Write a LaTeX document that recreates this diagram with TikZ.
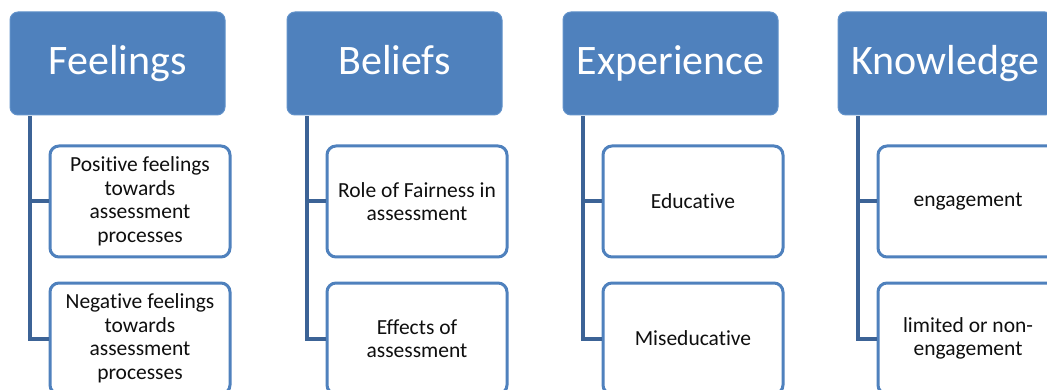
\documentclass[tikz,border=0pt]{standalone}
\usepackage{fontspec}
\setmainfont{Carlito}[Ligatures={NoCommon}]
\definecolor{hdrfill}{RGB}{79,129,189}
\definecolor{hdrline}{RGB}{98,146,202}
\definecolor{boxline}{RGB}{79,129,189}
\definecolor{connline}{RGB}{60,99,150}
\definecolor{txt}{RGB}{15,15,15}
\tikzset{
  header/.style={rectangle, rounded corners=8pt, fill=hdrfill, draw=hdrline, line width=1pt,
    minimum width=215pt, minimum height=103pt, inner sep=0pt, text=white,
    text height=30pt, text depth=7pt,
    font=\fontsize{42}{50}\selectfont},
  child/.style={rectangle, rounded corners=9pt, fill=white, draw=boxline, line width=3pt,
    minimum width=180pt, minimum height=111pt, inner sep=2pt, text=txt, align=center,
    font=\fontsize{21.5}{23.5}\selectfont},
  conn/.style={draw=connline, line width=4pt}
}
\begin{document}
\begin{tikzpicture}[x=1pt,y=-1pt]
\useasboundingbox (0,0) rectangle (1047,390);
\clip (0,0) rectangle (1047,390);
\fill[white] (0,0) rectangle (1047,390);
% column 1
\node[header] (h1) at (117.5,63.5) {Feelings};
\node[child] (a1) at (140,201.5) {Positive feelings\\towards\\assessment\\processes};
\node[child] (b1) at (140,338.5) {Negative feelings\\towards\\assessment\\processes};
% column 2
\node[header] (h2) at (394.5,63.5) {Beliefs};
\node[child] (a2) at (417,201.5) {Role of Fairness in\\assessment};
\node[child] (b2) at (417,338.5) {Effects of\\assessment};
% column 3
\node[header] (h3) at (670.5,63.5) {Experience};
\node[child] (a3) at (693,201.5) {Educative};
\node[child] (b3) at (693,338.5) {Miseducative};
% column 4
\node[header] (h4) at (945.5,63.5) {Knowledge};
\node[child] (a4) at (968,201.5) {engagement};
\node[child] (b4) at (968,338.5) {limited or non-\\engagement};
% connectors
\foreach \i in {1,2,3,4}{
  \draw[conn] ([xshift=20pt,yshift=-1pt]h\i.south west) |- (a\i.west);
  \draw[conn] ([xshift=20pt,yshift=-1pt]h\i.south west) |- (b\i.west);
}
\end{tikzpicture}
\end{document}
